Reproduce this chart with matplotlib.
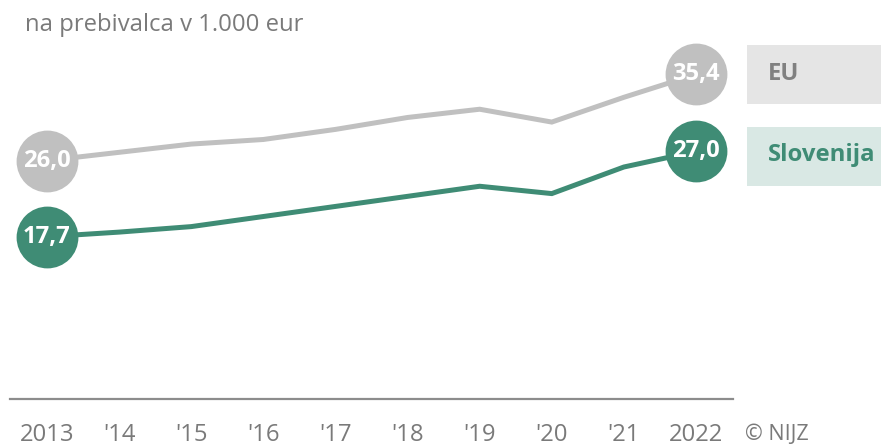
import matplotlib
matplotlib.use("Agg")
import matplotlib.pyplot as plt
from matplotlib.patches import Rectangle

years = [2013, 2014, 2015, 2016, 2017, 2018, 2019, 2020, 2021, 2022]
tick_labels = ["2013", "'14", "'15", "'16", "'17", "'18", "'19", "'20", "'21", "2022"]
eu = [26.0, 26.9, 27.8, 28.3, 29.4, 30.7, 31.6, 30.2, 32.9, 35.4]
slovenija = [17.7, 18.2, 18.8, 19.9, 21.0, 22.1, 23.2, 22.4, 25.3, 27.0]

GREEN = "#3f8c75"
GRAY = "#c0c0c0"
TEXT_GRAY = "#7a7a7a"
FS = 17.2

W, H = 881, 446
plt.rcParams['font.family'] = ['Open Sans', 'DejaVu Sans']

fig = plt.figure(figsize=(W / 100, H / 100), dpi=100)
ax = fig.add_axes([10 / W, (H - 399) / H, 723 / W, (399 - 32.2) / H])

ax.plot(years, eu, color=GRAY, linewidth=3.6, solid_joinstyle='miter', zorder=2)
ax.plot(years, slovenija, color=GREEN, linewidth=3.6, solid_joinstyle='miter', zorder=2)

# end-point circles with values
for series, col in [(eu, GRAY), (slovenija, GREEN)]:
    for i in (0, -1):
        ax.plot(years[i], series[i], 'o', markersize=44.5, color=col,
                markeredgewidth=0, zorder=3, clip_on=False)
        ax.text(years[i], series[i], f"{series[i]:.1f}".replace('.', ','),
                ha='center', va='center', color='white', fontsize=FS,
                fontweight='bold', zorder=4)

ax.set_xlim(2012.487, 2022.513)
ax.set_ylim(0, 40)
ax.set_xticks(years)
ax.set_xticklabels(tick_labels)
ax.tick_params(axis='x', length=0, pad=17, labelsize=FS, labelcolor=TEXT_GRAY)
ax.set_yticks([])
for side in ['top', 'right', 'left']:
    ax.spines[side].set_visible(False)
ax.spines['bottom'].set_color("#8c8c8c")
ax.spines['bottom'].set_linewidth(1.6)

fig.text(25 / W, 1 - 25 / H, "na prebivalca v 1.000 eur", ha='left', va='center',
         fontsize=FS, color=TEXT_GRAY)

# legend boxes on the right
fig.add_artist(Rectangle((747 / W, 1 - 104 / H), (W - 747) / W, 59 / H,
                         transform=fig.transFigure, color="#e5e5e5", lw=0))
fig.add_artist(Rectangle((747 / W, 1 - 186 / H), (W - 747) / W, 59 / H,
                         transform=fig.transFigure, color="#d9e8e4", lw=0))
fig.text(768 / W, 1 - 74 / H, "EU", ha='left', va='center', fontsize=FS,
         fontweight='bold', color="#808080")
fig.text(768 / W, 1 - 155 / H, "Slovenija", ha='left', va='center', fontsize=FS,
         fontweight='bold', color=GREEN)

fig.text(745 / W, 1 - 435 / H, "© NIJZ", ha='left', va='center', fontsize=15.5,
         color=TEXT_GRAY)

fig.savefig("out.png", dpi=100)
